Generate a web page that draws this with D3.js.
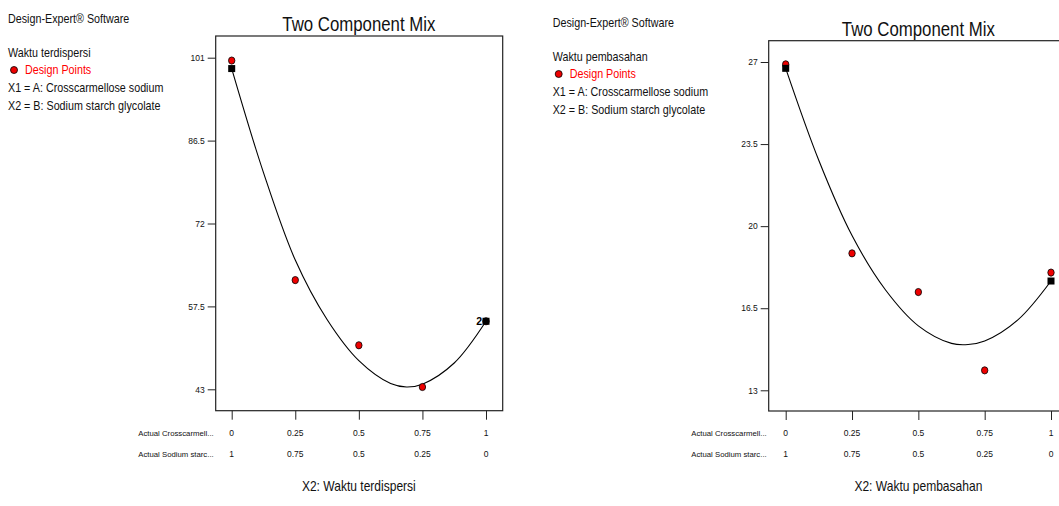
<!DOCTYPE html>
<html>
<head>
<meta charset="utf-8">
<script src="https://cdn.jsdelivr.net/npm/d3@7"></script>
<style>
  body { margin: 0; background: #fff; }
  text { font-family: "Liberation Sans", Arial, sans-serif; }
</style>
</head>
<body>
<div id="chart"></div>
<script>

/********** data ********************************/
var xTicks = [0, 0.25, 0.5, 0.75, 1];
var xTickTop = ["0", "0.25", "0.5", "0.75", "1"];
var xTickBottom = ["1", "0.75", "0.5", "0.25", "0"];
var rowLabels = ["Actual Crosscarmell...", "Actual Sodium starc..."];
var legendLines = ["X1 = A: Crosscarmellose sodium", "X2 = B: Sodium starch glycolate"];

// Waktu terdispersi
var dispYTicks = [43, 57.5, 72, 86.5, 101];
var dispPointsX = [0, 0.25, 0.5, 0.75, 1];
var dispPointsY = [100.5, 62.1, 50.7, 43.4, 54.9];
var dispSquaresX = [0, 1];
var dispSquaresY = [99.1, 54.9];
var dispCurveX = [0, 0.125, 0.25, 0.375, 0.5, 0.625, 0.6875, 0.75, 0.875, 1];
var dispCurveY = [99.1, 80.9, 65.6, 55.2, 48.0, 44.0, 43.4, 43.9, 47.6, 54.9];

// Waktu pembasahan
var wetYTicks = [13, 16.5, 20, 23.5, 27];
var wetPointsX = [0, 0.25, 0.5, 0.75, 1];
var wetPointsY = [26.9, 18.84, 17.19, 13.85, 18.02];
var wetSquaresX = [0, 1];
var wetSquaresY = [26.73, 17.66];
var wetCurveX = [0, 0.125, 0.25, 0.375, 0.5, 0.625, 0.6875, 0.75, 0.875, 1];
var wetCurveY = [26.73, 22.8, 19.6, 17.3, 15.75, 15.0, 14.95, 15.1, 16.0, 17.66];

var W = 1059, H = 506;

var svg = d3.select("#chart")
	.append("svg")
	.attr("width", W)
	.attr("height", H);

// text helper, the original fonts are narrow so squeeze horizontally
function txt(g, x, y, str, size, sx, anchor) {
	return g.append("text")
		.attr("transform", "translate(" + x + "," + y + ") scale(" + sx + ",1)")
		.attr("text-anchor", anchor || "start")
		.style("font-size", size + "px")
		.attr("fill", "#111")
		.text(str);
}

function draw_panel(cfg) {
	var g = svg.append("g");

	/********** legend text ***********/
	var lx = cfg.legendX, ly = cfg.legendY;
	txt(g, lx, ly, "Design-Expert\u00AE Software", 12.5, 0.86);
	txt(g, lx, ly + 34, cfg.response, 12.5, 0.86);
	g.append("circle")
		.attr("cx", lx + 6).attr("cy", ly + 47)
		.attr("r", 3.5)
		.attr("fill", "#ee0000").attr("stroke", "#000").attr("stroke-width", 0.8);
	txt(g, lx + 17, ly + 51, "Design Points", 12.5, 0.86).attr("fill", "#ff0000");
	legendLines.forEach(function (s, i) {
		txt(g, lx, ly + 69 + i * 17.5, s, 12.5, 0.86);
	});

	/********** scales ***********/
	var x = d3.scaleLinear().domain([0, 1]).range([cfg.x0, cfg.x1]);
	var y = d3.scaleLinear().domain([cfg.yTicks[0], cfg.yTicks[cfg.yTicks.length - 1]])
		.range([cfg.yLo, cfg.yHi]);

	// frame
	g.append("rect")
		.attr("x", cfg.boxL).attr("y", cfg.boxT)
		.attr("width", cfg.boxR - cfg.boxL).attr("height", cfg.boxB - cfg.boxT)
		.attr("fill", "none").attr("stroke", "#222").attr("stroke-width", 1.2);

	// title
	txt(g, (cfg.x0 + cfg.x1) / 2, cfg.boxT - 5, "Two Component Mix", 20, 0.84, "middle");

	// y axis
	var yAxis = d3.axisLeft(y).tickValues(cfg.yTicks).tickSize(8).tickPadding(3)
		.tickFormat(function (d) { return String(d); });
	var ya = g.append("g").attr("transform", "translate(" + cfg.boxL + ",0)").call(yAxis);
	ya.select(".domain").remove();
	ya.selectAll("line").attr("stroke", "#222");
	ya.selectAll("text").style("font-size", "8.5px")
		.style("font-family", "'Liberation Sans', Arial, sans-serif").attr("fill", "#111");

	// x axis with two rows of labels
	var xAxis = d3.axisBottom(x).tickValues(xTicks).tickSize(9)
		.tickFormat(function (d, i) { return xTickTop[i]; });
	var xa = g.append("g").attr("transform", "translate(0," + cfg.boxB + ")").call(xAxis);
	xa.select(".domain").remove();
	xa.selectAll("line").attr("stroke", "#222");
	xa.selectAll("text").remove();
	xTicks.forEach(function (d, i) {
		txt(g, x(d), cfg.boxB + 25, xTickTop[i], 8.5, 1, "middle");
		txt(g, x(d), cfg.boxB + 46, xTickBottom[i], 8.5, 1, "middle");
	});
	txt(g, cfg.boxL - 2, cfg.boxB + 25, rowLabels[0], 8, 0.97, "end");
	txt(g, cfg.boxL - 2, cfg.boxB + 46, rowLabels[1], 8, 0.97, "end");

	txt(g, (cfg.x0 + cfg.x1) / 2, cfg.boxB + 80, cfg.xLabel, 14, 0.86, "middle");

	/********** fitted curve ***********/
	var line = d3.line()
		.x(function (d) { return x(d[0]); })
		.y(function (d) { return y(d[1]); })
		.curve(d3.curveCatmullRom);
	g.append("path")
		.datum(d3.zip(cfg.curveX, cfg.curveY))
		.attr("d", line)
		.attr("fill", "none").attr("stroke", "#000").attr("stroke-width", 1.1);

	/********** design points ***********/
	g.selectAll(".pt")
		.data(d3.zip(cfg.ptsX, cfg.ptsY))
		.enter().append("ellipse")
		.attr("cx", function (d) { return x(d[0]); })
		.attr("cy", function (d) { return y(d[1]); })
		.attr("rx", 3.2).attr("ry", 3.6)
		.attr("fill", "#ee0000").attr("stroke", "#000").attr("stroke-width", 0.8);

	g.selectAll(".sq")
		.data(d3.zip(cfg.sqX, cfg.sqY))
		.enter().append("rect")
		.attr("x", function (d) { return x(d[0]) - 3.5; })
		.attr("y", function (d) { return y(d[1]) - 3.5; })
		.attr("width", 7).attr("height", 7)
		.attr("fill", "#000");

	if (cfg.repLabel) {
		var r = cfg.repLabel;
		txt(g, x(r[0]) - 4, y(r[1]) + 4, "2", 10.5, 1, "end")
			.style("font-weight", "bold").attr("fill", "#000");
	}
}

draw_panel({
	legendX: 8, legendY: 23,
	response: "Waktu terdispersi",
	xLabel: "X2: Waktu terdispersi",
	boxL: 215.7, boxR: 502.7, boxT: 36, boxB: 410.7,
	x0: 231.7, x1: 486,
	yTicks: dispYTicks, yLo: 389.3, yHi: 57.7,
	ptsX: dispPointsX, ptsY: dispPointsY,
	sqX: dispSquaresX, sqY: dispSquaresY,
	curveX: dispCurveX, curveY: dispCurveY,
	repLabel: [1, 54.9]
});

draw_panel({
	legendX: 552.7, legendY: 27,
	response: "Waktu pembasahan",
	xLabel: "X2: Waktu pembasahan",
	boxL: 768.7, boxR: 1068, boxT: 40.7, boxB: 411,
	x0: 785.7, x1: 1051,
	yTicks: wetYTicks, yLo: 390.3, yHi: 62,
	ptsX: wetPointsX, ptsY: wetPointsY,
	sqX: wetSquaresX, sqY: wetSquaresY,
	curveX: wetCurveX, curveY: wetCurveY,
	repLabel: null
});

</script>
</body>
</html>
